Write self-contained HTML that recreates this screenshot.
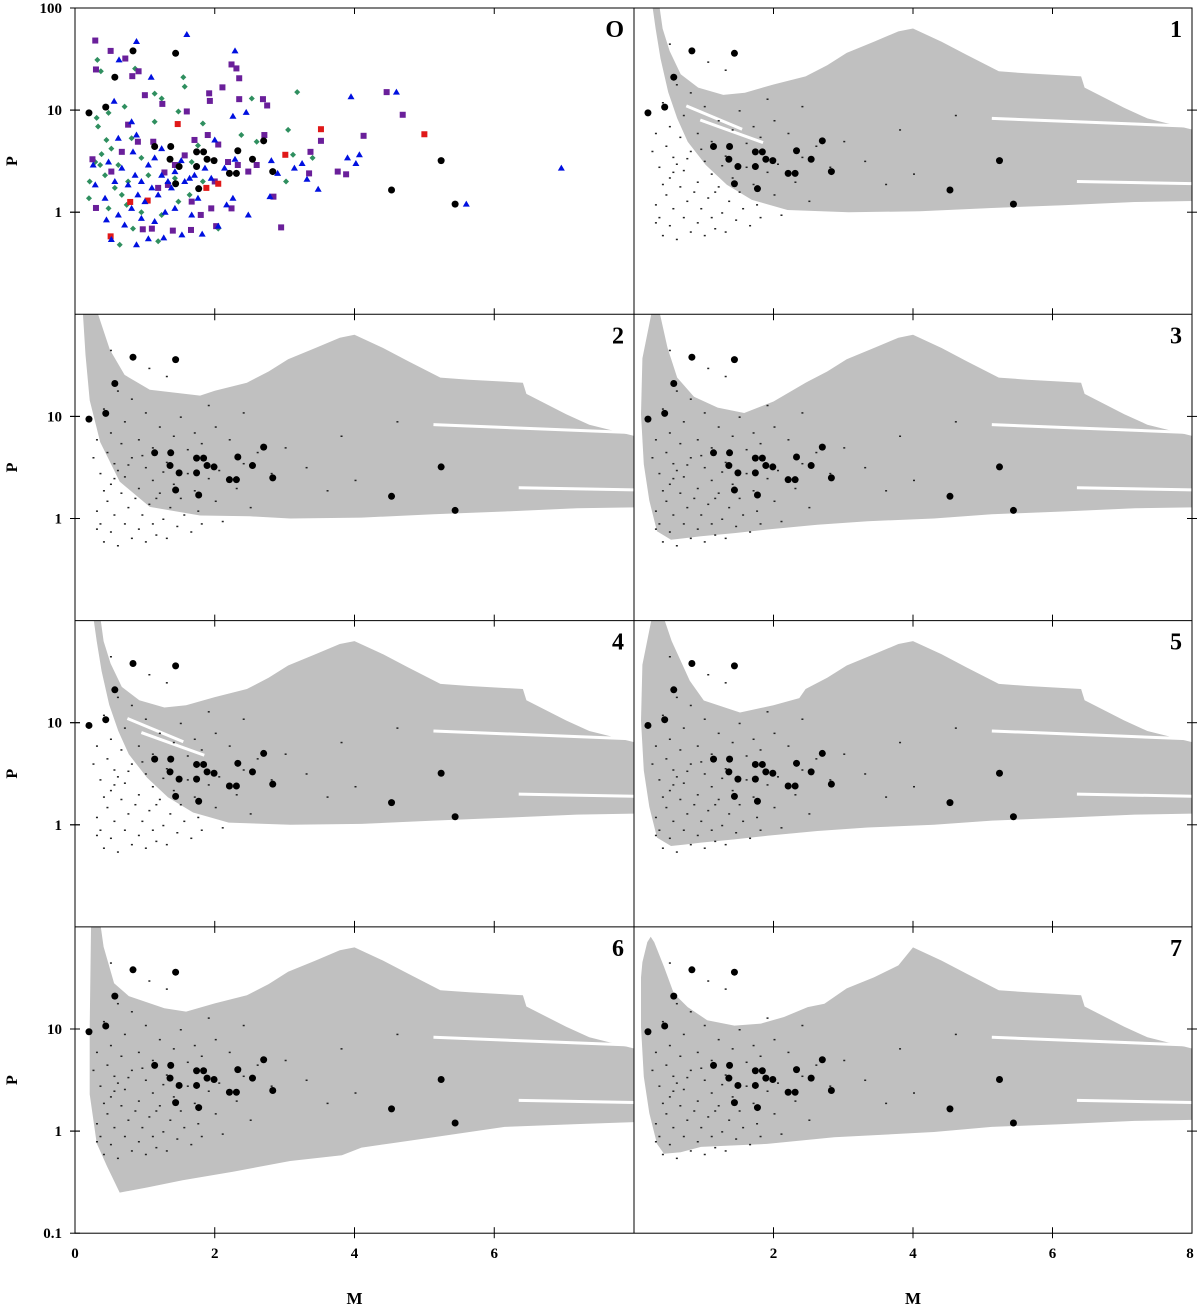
<!DOCTYPE html>
<html><head><meta charset="utf-8"><style>
html,body{margin:0;padding:0;background:#fff;}
svg{display:block;font-family:"Liberation Serif",serif;font-weight:bold;}
</style></head><body>
<svg id="chart" width="1200" height="1308" viewBox="0 0 1200 1308" xmlns="http://www.w3.org/2000/svg">
<defs id="defs"></defs>
<g id="panels"></g>
<g id="axes"></g>
</svg>
<script>
// ---------- data ----------
const panelLabels = ["O","1","2","3","4","5","6","7"];
const planetM = [0.2,0.44,0.57,0.83,1.44,1.14,1.37,1.36,1.44,1.49,1.74,1.84,1.74,1.77,1.89,1.99,2.21,2.31,2.33,2.54,2.7,2.83,4.53,5.24,5.44];
const planetP = [9.4,10.7,21,38,36,4.4,4.4,3.3,1.9,2.8,3.9,3.9,2.8,1.7,3.3,3.2,2.4,2.4,4.0,3.3,5.0,2.5,1.65,3.2,1.2];
const blueM = [0.88,1.6,2.29,0.63,1.09,0.56,2.45,2.26,3.95,0.81,0.88,0.62,1.24,2.0,2.81,3.14,3.9,4.07,4.02,3.48,3.32,2.48,1.82,1.53,1.27,1.05,0.52,0.88,0.71,0.45,0.62,0.81,1.0,1.19,1.38,1.57,1.71,1.86,1.95,2.14,2.29,0.48,0.67,0.86,0.95,1.05,1.14,1.24,1.33,1.43,1.1,0.9,0.76,0.57,0.43,0.29,0.26,0.83,1.52,1.64,1.76,2.26,2.79,2.9,0.95,1.14,1.29,1.43,1.67,2.05,2.17,6.96,5.6,4.6,3.25];
const blueP = [47,55,38,31,21,12.2,9.5,8.7,13.5,7.7,5.7,5.3,4.2,5.1,3.2,2.7,3.4,3.65,3.0,1.68,2.1,0.94,0.61,0.6,0.56,0.55,0.54,0.48,0.75,0.84,0.94,1.09,1.27,1.48,1.73,2.0,2.3,2.7,2.15,2.7,3.3,3.1,2.7,2.3,2.0,2.9,3.4,2.3,2.0,2.5,1.73,1.48,1.85,2.0,1.37,1.85,2.9,3.9,3.2,2.15,1.37,1.37,1.42,2.4,0.87,0.81,1.0,1.09,0.94,0.73,1.18,2.7,1.2,15,3.0];
const greenM = [0.32,0.37,0.86,1.55,1.57,3.18,2.53,1.14,1.24,0.71,0.48,0.31,0.33,0.45,0.38,0.29,0.21,0.2,0.48,0.64,0.83,1.19,1.48,1.64,1.83,1.76,1.83,2.38,3.05,3.12,3.02,3.4,2.6,0.76,0.62,0.52,0.95,1.05,0.67,0.57,0.43,0.36,0.81,1.14,1.48,2.05,0.95,0.74,1.24,1.43,1.67];
const greenP = [31,24,25.5,21,17,15,13,14.5,13,10.8,9.4,8.4,6.9,5.1,3.7,3.1,2.0,1.37,1.09,0.48,0.69,0.52,1.27,1.48,2.0,4.5,7.4,5.7,6.4,3.65,2.0,3.4,4.9,2.0,2.9,4.2,3.4,2.3,1.48,1.73,2.3,2.9,5.3,7.7,9.7,0.69,1.0,1.18,0.94,2.15,3.1];
const squareM = [0.29,0.51,0.3,0.72,0.91,0.82,1.0,1.25,1.6,1.92,1.93,2.11,2.24,2.31,2.35,2.35,2.69,2.75,3.52,4.13,3.37,3.76,3.88,3.35,2.84,2.95,2.02,1.8,1.66,1.4,1.1,0.97,0.3,0.25,1.28,1.43,1.57,1.71,1.9,2.05,2.19,2.33,2.48,2.6,2.71,1.95,2.24,1.67,0.76,0.9,0.67,0.52,1.19,1.33,1.12,2.0,4.46,4.69];
const squareP = [48,38,25,32,24,21.5,14,11.5,9.7,14.6,12.3,16.7,28,25.6,20.5,12.8,12.8,11.1,5,5.6,3.9,2.5,2.35,2.4,1.42,0.71,0.73,0.94,0.67,0.66,0.69,0.68,1.1,3.3,2.45,2.9,3.6,5.1,5.7,4.6,3.1,2.9,2.5,2.9,5.7,1.09,1.09,1.27,7.2,4.9,3.9,2.5,1.73,1.85,4.9,2.0,15,9];
const redM = [1.47,3.52,3.01,0.51,0.79,1.04,1.88,2.05,5.0];
const redP = [7.3,6.5,3.65,0.58,1.26,1.3,1.73,1.9,5.8];
const simM = [0.3,0.35,0.4,0.45,0.5,0.5,0.55,0.6,0.6,0.65,0.7,0.7,0.75,0.8,0.8,0.85,0.9,0.9,0.95,1.0,1.0,1.05,1.1,1.1,1.15,1.2,1.25,1.3,1.3,1.35,1.4,1.45,1.5,1.55,1.6,1.65,1.7,1.75,1.8,1.9,2.0,2.05,2.1,2.3,2.4,2.5,2.6,2.8,3.0,3.3,3.6,3.8,4.0,4.6,0.25,0.3,0.35,0.4,0.45,0.5,0.55,0.65,0.7,0.8,0.9,1.0,1.1,1.2,1.3,1.4,1.5,1.6,1.7,1.8,1.9,2.0,2.2,2.4,0.6,1.05,0.5,1.85,0.95,1.25,0.75,0.55,0.4,0.3,1.15,1.45];
const simP = [1.2,0.9,0.6,1.5,2.2,0.75,1.1,3.0,0.55,1.8,0.9,2.6,1.3,0.65,4.0,1.6,2.0,0.8,1.1,0.6,3.2,1.4,0.9,2.4,0.7,1.8,1.0,0.65,3.6,1.3,2.2,0.85,1.6,1.1,2.8,0.75,1.9,1.2,0.9,2.5,1.5,3.0,0.95,2.0,3.5,1.3,4.5,2.8,5.0,3.2,1.9,6.5,2.4,9,4.0,6.0,2.8,12,4.5,7,3.5,5.5,9,15,6,11,5,8,25,6.5,10,4.8,7,5.5,13,8,6,11,18,30,45,3.8,4.2,2.9,3.4,2.5,1.9,0.8,1.6,1.9];
// region outlines [M, P]
const fanTop = [[1.59,14.8],[2.0,17.8],[2.46,21.4],[2.77,27.5],[3.05,36.3],[3.44,46.8],[3.79,59],[4.0,63],[4.41,46.8],[4.77,34.7],[5.23,24],[5.64,22.9],[6.41,21.4],[6.46,16.6],[7.03,10.5],[7.36,8.3],[8.1,6.2]];
const bottomTail = [[2.2,1.05],[3.08,1.0],[4.1,1.02],[5.13,1.1],[6.15,1.17],[7.18,1.26],[8.1,1.29]];
const outerA = [[0.26,110],[0.31,63],[0.38,32],[0.49,15],[0.62,8.3],[0.77,4.9],[1.03,2.9],[1.33,1.86],[1.69,1.32],[2.2,1.05]];
const innerA = [[0.36,110],[0.41,63],[0.51,38],[0.67,22.4],[0.92,16.6],[1.28,14.1]];
const outer2 = [[0.11,110],[0.15,40],[0.21,14.4],[0.36,5.6],[0.64,2.3],[1.07,1.3],[1.79,1.07],[2.5,1.05]];
const inner2 = [[0.31,110],[0.5,45],[0.71,25.5],[1.07,18.2],[1.79,16]];
const outer3 = [[0.26,110],[0.12,37],[0.1,10.5],[0.14,3.4],[0.22,1.5],[0.33,0.75],[0.53,0.62],[0.72,0.64],[0.96,0.67],[1.44,0.72],[1.91,0.78],[2.63,0.87],[3.35,0.94],[4.3,1.0]];
const inner3 = [[0.36,110],[0.48,47],[0.62,24],[0.86,15.6],[1.2,12.2],[1.58,10.8],[2.0,14]];
const inner5 = [[0.42,110],[0.54,63],[0.8,25.7],[1.0,16.5],[1.52,12.6],[2.0,14.8],[2.37,17.4]];
const outer6 = [[0.23,110],[0.21,10.5],[0.21,2.3],[0.31,0.76],[0.46,0.45],[0.64,0.25],[1.03,0.28],[1.54,0.33],[2.26,0.4],[3.08,0.51],[3.82,0.58],[4.1,0.69],[5.13,0.87],[6.15,1.1],[7.18,1.17],[8.1,1.23]];
const inner6 = [[0.36,110],[0.41,64],[0.56,28],[0.77,21],[1.28,16]];
const outer7 = [[0.24,80],[0.19,71],[0.12,45],[0.1,32],[0.1,10.5],[0.14,3.4],[0.22,1.5],[0.33,0.75],[0.43,0.6],[0.67,0.62],[0.96,0.7],[1.91,0.75],[2.87,0.87],[4.3,0.98]];
const inner7 = [[0.29,71],[0.43,40.7],[0.57,22.3],[0.77,16.4],[1.05,12.2],[1.44,10.8],[1.82,11.3],[2.15,13.1],[2.49,16.4],[2.73,17.7],[3.05,25],[3.44,32],[3.79,42]];
const streaks = [[[5.13,8.3],[8.1,6.9]],[[6.35,2.0],[8.1,1.9]]];
const streaksLeft = [[[0.75,11],[1.55,6.5]],[[0.95,8],[1.85,4.8]]];
const regionOuter = [null,outerA,outer2,outer3,outerA,outer3,outer6,outer7];
const regionInner = [null,innerA,inner2,inner3,innerA,inner5,inner6,inner7];
const yTickVals = [100,10,1,0.1];
const xTickVals = [0,2,4,6,8];

// ---------- layout ----------
const NS = "http://www.w3.org/2000/svg";
const rowTop = r => 8 + r*306.3;
const panelH = 306.3;
function geom(k){ const c=k%2, r=Math.floor(k/2); return {x0: c?634:75, w: c?558:559, y0: rowTop(r)}; }
function xs(g,M){ return g.x0 + M/8*g.w; }
function ys(g,P){ return g.y0 + (2 - Math.log10(P))/3*panelH; }
function mk(tag, attrs, parent){ const e=document.createElementNS(NS,tag); for(const a in attrs) e.setAttribute(a,attrs[a]); parent.appendChild(e); return e; }
const panelsG = document.getElementById('panels');
const axesG = document.getElementById('axes');
const defs = document.getElementById('defs');

for(let k=0;k<8;k++){
  const g = geom(k);
  const cp = mk('clipPath',{id:'cp'+k},defs);
  mk('rect',{x:g.x0,y:g.y0,width:g.w,height:panelH},cp);
  const pg = mk('g',{'clip-path':'url(#cp'+k+')'},panelsG);
  
  
  if(k>0){
    const outer = regionOuter[k], inner = regionInner[k];
    const lastO = outer[outer.length-1][0], lastI = inner[inner.length-1][0];
    let pts = outer.slice();
    bottomTail.forEach(p=>{ if(p[0]>lastO) pts.push(p); });
    const top = fanTop.filter(p=>p[0]>lastI).reverse();
    pts = pts.concat(top).concat(inner.slice().reverse());
    const poly = mk('polygon',{points: pts.map(p=>xs(g,p[0]).toFixed(1)+','+ys(g,p[1]).toFixed(1)).join(' '), fill:'#c0c0c0'},pg);
    
    
    streaks.forEach(s=>{
      const l = mk('line',{x1:xs(g,s[0][0]),y1:ys(g,s[0][1]),x2:xs(g,s[1][0]),y2:ys(g,s[1][1]),stroke:'#fff','stroke-width':3},pg);
      
      
    });
    if(k===1||k===4){
      streaksLeft.forEach(s=>{
        const l = mk('line',{x1:xs(g,s[0][0]),y1:ys(g,s[0][1]),x2:xs(g,s[1][0]),y2:ys(g,s[1][1]),stroke:'#fff','stroke-width':3},pg);
        
        
      });
    }
    for(let i=0;i<simM.length;i++){
      const d = mk('rect',{x:xs(g,simM[i]),y:ys(g,simP[i]),width:2,height:1.5,fill:'#222'},pg);
      
      
    }
  } else {
    for(let i=0;i<greenM.length;i++){
      const x=xs(g,greenM[i]), y=ys(g,greenP[i]);
      const d = mk('polygon',{points:`${x},${y-3} ${x+3},${y} ${x},${y+3} ${x-3},${y}`,fill:'#2f8f5f'},pg);
      
      
    }
    for(let i=0;i<squareM.length;i++){
      const x=xs(g,squareM[i]), y=ys(g,squareP[i]);
      const d = mk('rect',{x:x-3,y:y-3,width:6,height:6,fill:'#6a1f9a'},pg);
      
      
    }
    for(let i=0;i<redM.length;i++){
      const x=xs(g,redM[i]), y=ys(g,redP[i]);
      const d = mk('rect',{x:x-3,y:y-3,width:6,height:6,fill:'#e01818'},pg);
      
      
    }
    for(let i=0;i<blueM.length;i++){
      const x=xs(g,blueM[i]), y=ys(g,blueP[i]);
      const d = mk('polygon',{points:`${x},${y-3.5} ${x+3.5},${y+2.5} ${x-3.5},${y+2.5}`,fill:'#0010e0'},pg);
      
      
    }
  }
  for(let i=0;i<planetM.length;i++){
    const c = mk('circle',{cx:xs(g,planetM[i]),cy:ys(g,planetP[i]),r:3.5,fill:'#000'},pg);
    
    
  }
  const t = mk('text',{x:g.x0+g.w-10,y:g.y0+29,'font-size':24,'text-anchor':'end',fill:'#000'},axesG);
  t.textContent = panelLabels[k];
  
  
  [2,4,6].forEach(m=>{
    mk('line',{x1:xs(g,m),y1:g.y0,x2:xs(g,m),y2:g.y0+6,stroke:'#000','stroke-width':1},axesG);
    mk('line',{x1:xs(g,m),y1:g.y0+panelH-6,x2:xs(g,m),y2:g.y0+panelH+ (Math.floor(k/2)===3?5:0),stroke:'#000','stroke-width':1},axesG);
  });
  [10,1].forEach(p=>{
    const xe = k%2 ? g.x0+g.w : g.x0;
    mk('line',{x1:xe-5,y1:ys(g,p),x2:xe+5,y2:ys(g,p),stroke:'#000','stroke-width':1},axesG);
  });
}
const frame = mk('rect',{x:75,y:8,width:1117,height:panelH*4,fill:'none',stroke:'#000','stroke-width':1},axesG);


mk('line',{x1:634,y1:8,x2:634,y2:8+panelH*4,stroke:'#000','stroke-width':1},axesG);
for(let r=1;r<4;r++) mk('line',{x1:75,y1:rowTop(r),x2:1192,y2:rowTop(r),stroke:'#000','stroke-width':1},axesG);

for(let r=0;r<4;r++){
  const g = geom(r*2);
  yTickVals.forEach(p=>{
    if(p===100 && r!==0) return;
    if(p===0.1 && r!==3) return;
    const y = ys(g,p);
    mk('line',{x1:70,y1:y,x2:80,y2:y,stroke:'#000','stroke-width':1},axesG);
    const t = mk('text',{x:62,y:y+5,'font-size':15,'text-anchor':'end',fill:'#000'},axesG);
    t.textContent = String(p);
    
    
  });
  const yl = mk('text',{x:0,y:0,'font-size':16,'text-anchor':'middle',fill:'#000',transform:`translate(17,${rowTop(r)+panelH/2}) rotate(-90)`},axesG);
  yl.textContent='P';
  
  
}
[6,7].forEach(k=>{
  const g = geom(k);
  xTickVals.forEach(m=>{
    if(k===6 && m===8) return;
    if(k===7 && m===0) return;
    const t = mk('text',{x:xs(g,m)-(k===7&&m===8?2:0),y:1258,'font-size':15,'text-anchor':'middle',fill:'#000'},axesG);
    t.textContent = String(m);
    
    
  });
  const xl = mk('text',{x:xs(g,4),y:1304,'font-size':17,'text-anchor':'middle',fill:'#000'},axesG);
  xl.textContent='M';
  
  
});
</script>
</body></html>
